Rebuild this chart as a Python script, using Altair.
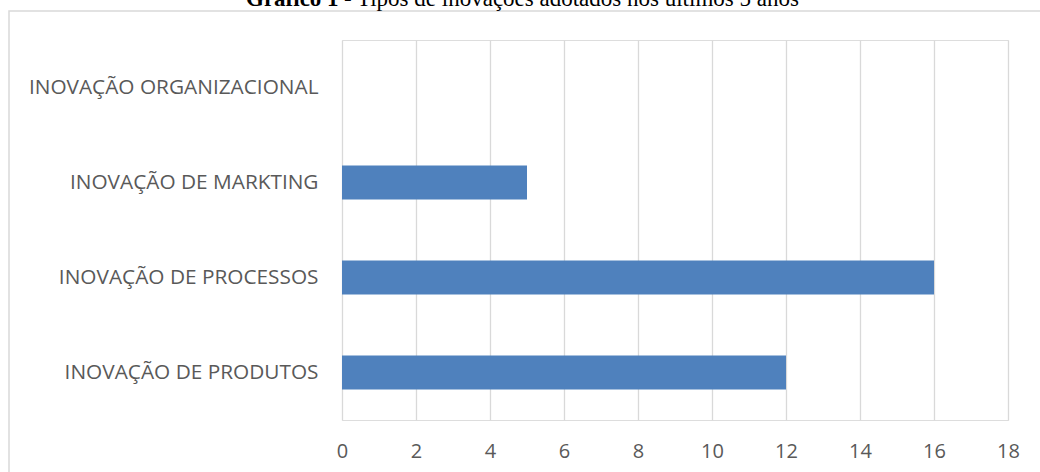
import altair as alt
import pandas as pd

categories = ["INOVAÇÃO ORGANIZACIONAL", "INOVAÇÃO DE MARKTING", "INOVAÇÃO DE PROCESSOS", "INOVAÇÃO DE PRODUTOS"]
values = [0, 5, 16, 12]
x_ticks = [0, 2, 4, 6, 8, 10, 12, 14, 16, 18]
title_bold = "Gráfico 1"
title_rest = "- Tipos de inovações adotados nos últimos 5 anos"

df = pd.DataFrame({"cat": categories, "val": values})

W, H = 666, 380
PL, PT = 342, 40

bars = alt.Chart(df).mark_bar(color="#4F81BD").encode(
    x=alt.X("val:Q", scale=alt.Scale(domain=[0, 18], nice=False),
            axis=alt.Axis(values=x_ticks, title=None, domain=False, ticks=False,
                          grid=True, gridColor="#D9D9D9", gridWidth=1.3,
                          labelFont="Open Sans", labelFontSize=20, labelColor="#595959",
                          labelPadding=21, labelBaseline="top", labelFlush=False)),
    y=alt.Y("cat:N", sort=categories,
            scale=alt.Scale(paddingInner=0.64, paddingOuter=0.32),
            axis=alt.Axis(title=None, domain=False, ticks=False, grid=False,
                          labelFont="Open Sans", labelFontSize=20.8, labelColor="#595959",
                          labelPadding=24, labelLimit=400)),
)

border = alt.Chart(pd.DataFrame({"a": [0]})).mark_rect(
    fill=None, stroke="#D9D9D9", strokeWidth=1.5
).encode(
    x=alt.value(9 - PL), x2=alt.value(1100 - PL),
    y=alt.value(11 - PT), y2=alt.value(520 - PT),
)

t1 = alt.Chart(pd.DataFrame({"t": [title_bold]})).mark_text(
    font="Liberation Serif", fontSize=23, fontWeight="bold", color="#000000",
    align="left", baseline="alphabetic"
).encode(text="t:N", x=alt.value(246 - PL), y=alt.value(6 - PT))

t2 = alt.Chart(pd.DataFrame({"t": [title_rest]})).mark_text(
    font="Liberation Serif", fontSize=23, color="#000000",
    align="left", baseline="alphabetic"
).encode(text="t:N", x=alt.value(344 - PL), y=alt.value(6 - PT))

chart = alt.layer(border, bars, t1, t2).properties(
    width=W, height=H,
    padding={"left": PL, "top": PT, "right": 1040 - PL - W, "bottom": 472 - PT - H},
    autosize=alt.AutoSizeParams(type="none"),
).configure_view(stroke=None).configure(background="white")

chart.save("out.html", embed_options={"renderer": "svg", "actions": False})
